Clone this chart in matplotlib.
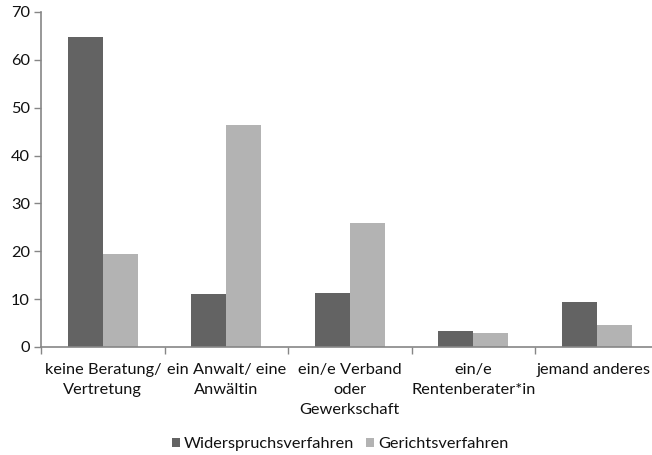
import matplotlib
matplotlib.use("Agg")
import matplotlib.pyplot as plt
from matplotlib.transforms import offset_copy
import numpy as np

categories = ["keine Beratung/\nVertretung", "ein Anwalt/ eine\nAnwältin",
              "ein/e Verband\noder\nGewerkschaft", "ein/e\nRentenberater*in",
              "jemand anderes"]
widerspruch = [64.7, 11.0, 11.2, 3.3, 9.3]
gericht = [19.5, 46.3, 25.9, 3.0, 4.7]
series_names = ["Widerspruchsverfahren", "Gerichtsverfahren"]
yticks = [0, 10, 20, 30, 40, 50, 60, 70]

plt.rcParams['font.family'] = ['Lato', 'DejaVu Sans']

fig = plt.figure(figsize=(6.52, 4.55), dpi=100)
W, H = 652, 455
left, right = 41, 658.5
bottom, top = 347, 12
ax = fig.add_axes([left / W, 1 - bottom / H, (right - left) / W, (bottom - top) / H])

x = np.arange(len(categories))
bw = 0.285
dark = "#636363"
light = "#b3b3b3"
txt = "#111111"
fs = 11.8
ax.bar(x - bw / 2, widerspruch, bw, color=dark, label=series_names[0])
ax.bar(x + bw / 2, gericht, bw, color=light, label=series_names[1])

ax.set_xlim(-0.5, len(categories) - 0.5)
ax.set_ylim(0, 70)
ax.set_yticks(yticks)
ax.set_yticklabels([str(v) for v in yticks], fontsize=fs, color=txt)

ax.set_xticks(np.arange(len(categories) + 1) - 0.5)
ax.set_xticklabels([])
ax.tick_params(axis='x', length=5, width=1, color="#868686", direction='out')
ax.tick_params(axis='y', length=5, width=1, color="#868686", direction='out', pad=3)

labels = []
for i, c in enumerate(categories):
    t = ax.text(i, -3.3, c, ha='center', va='top', fontsize=fs, color=txt,
                linespacing=1.55)
    labels.append(t)

for s in ['top', 'right']:
    ax.spines[s].set_visible(False)
for s in ['left', 'bottom']:
    ax.spines[s].set_color("#868686")
    ax.spines[s].set_linewidth(1.2)

fig.legend(loc='center', bbox_to_anchor=(340 / W, 1 - 444 / H), ncol=2, frameon=False,
           fontsize=fs, handlelength=0.5, handleheight=0.5, handletextpad=0.25,
           columnspacing=0.7, labelcolor=txt)

# keep category labels inside the figure (as the original does)
fig.canvas.draw()
r = fig.canvas.get_renderer()
for t in labels:
    bb = t.get_window_extent(r)
    over = bb.x1 - (W - 1)
    if over > 0:
        t.set_transform(offset_copy(ax.transData, fig=fig, x=-over, y=0, units='dots'))

fig.savefig("out.png", dpi=100)
